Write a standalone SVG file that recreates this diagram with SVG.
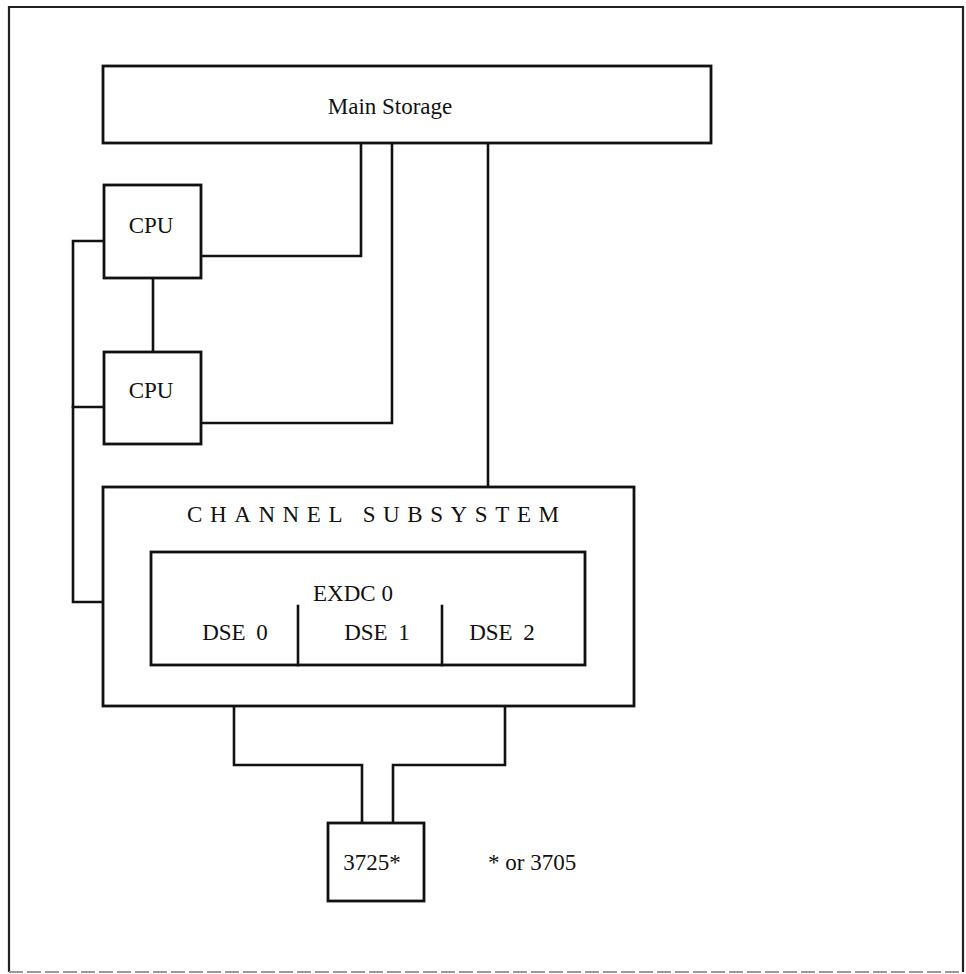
<svg xmlns="http://www.w3.org/2000/svg" width="966" height="974" viewBox="0 0 966 974">
<style>
  .box { fill: #ffffff; stroke: #111111; stroke-width: 2.8; }
  .line { fill: none; stroke: #111111; stroke-width: 2.6; stroke-linejoin: miter; stroke-linecap: square; }
  .lbl { font-family: "Liberation Serif", "Times New Roman", serif; font-size: 23px; fill: #111111; }
  .mid { text-anchor: middle; }
</style>
<rect x="0" y="0" width="966" height="974" fill="#ffffff"/>
<g id="frame">
  <path d="M9,972 L9,7 L963,7 L963,972" fill="none" stroke="#222222" stroke-width="2.2"/>
  <line x1="9" y1="972" x2="963" y2="972" stroke="#9a9a9a" stroke-width="2" stroke-dasharray="14,4"/>
</g>
<g id="connectors">
  <polyline class="line" points="201,256 361,256 361,143"/>
  <polyline class="line" points="201,423 392,423 392,143"/>
  <line class="line" x1="488" y1="487" x2="488" y2="143"/>
  <line class="line" x1="153" y1="278" x2="153" y2="352"/>
  <polyline class="line" points="104,241 73,241 73,602 103,602"/>
  <line class="line" x1="73" y1="407" x2="104" y2="407"/>
  <polyline class="line" points="234,665 234,765 362,765 362,823"/>
  <polyline class="line" points="505,665 505,765 393,765 393,823"/>
</g>
<g id="main-storage">
  <rect class="box" x="103" y="66" width="608" height="77"/>
  <text class="lbl mid" x="390" y="114">Main Storage</text>
</g>
<g id="cpu1">
  <rect class="box" x="104" y="185" width="97" height="93"/>
  <text class="lbl mid" x="151" y="233">CPU</text>
</g>
<g id="cpu2">
  <rect class="box" x="104" y="352" width="97" height="92"/>
  <text class="lbl mid" x="151" y="398">CPU</text>
</g>
<g id="channel-subsystem">
  <rect class="box" x="103" y="487" width="531" height="219"/>
  <text class="lbl" x="187" y="522" textLength="372" lengthAdjust="spacing">CHANNEL SUBSYSTEM</text>
</g>
<g id="exdc0">
  <rect class="box" x="151" y="552" width="434" height="113"/>
  <text class="lbl mid" x="353" y="601">EXDC 0</text>
  <line class="line" x1="298" y1="606" x2="298" y2="665"/>
  <line class="line" x1="442" y1="606" x2="442" y2="665"/>
</g>
<g id="dse0">
  <text class="lbl mid" x="235" y="640" word-spacing="5">DSE 0</text>
</g>
<g id="dse1">
  <text class="lbl mid" x="377" y="640" word-spacing="5">DSE 1</text>
</g>
<g id="dse2">
  <text class="lbl mid" x="502" y="640" word-spacing="5">DSE 2</text>
</g>
<g id="n3725">
  <rect class="box" x="328" y="823" width="96" height="78"/>
  <text class="lbl mid" x="372" y="870">3725*</text>
</g>
<g id="note">
  <text class="lbl" x="488" y="870">* or 3705</text>
</g>
</svg>
